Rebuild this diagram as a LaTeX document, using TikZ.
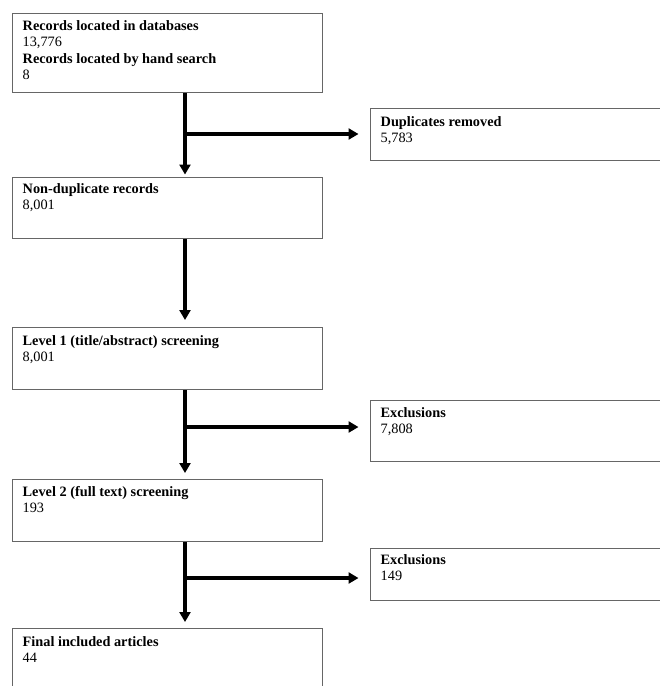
\documentclass[tikz,border=0pt]{standalone}
\usepackage{fontspec}
\setmainfont{Liberation Serif}
\usetikzlibrary{arrows.meta}
\begin{document}
\begin{tikzpicture}[x=1pt,y=-1pt,
  box/.style={draw=black!60, line width=1pt, rectangle, inner sep=0pt, anchor=north west, minimum width=310pt},
  sidebox/.style={box, minimum width=300pt},
  lbl/.style={anchor=north west, inner sep=0pt, align=left, font=\fontsize{14.3}{16.5}\selectfont},
  flow/.style={line width=3.5pt, -{Triangle[length=10pt,width=11pt]}}]
\useasboundingbox (0,0) rectangle (660,686);
\clip (0,0) rectangle (660,686);
% main boxes
\node[box, minimum height=79pt] (b1) at (12,13) {};
\node[box, minimum height=61pt] (b2) at (12,177) {};
\node[box, minimum height=62pt] (b3) at (12,327) {};
\node[box, minimum height=62pt] (b4) at (12,479) {};
\node[box, minimum height=70pt] (b5) at (12,628) {};
% side boxes
\node[sidebox, minimum height=52pt] (d) at (370,108) {};
\node[sidebox, minimum height=61pt] (e1) at (370,400) {};
\node[sidebox, minimum height=52pt] (e2) at (370,548) {};
% texts
\node[lbl] (t1) at ([xshift=10.5pt,yshift=-5pt]b1.north west) {\rule{0pt}{12pt}\textbf{Records located in databases}\\13,776\\\textbf{Records located by hand search}\\8};
\node[lbl] (t2) at ([xshift=10.5pt,yshift=-4pt]b2.north west) {\rule{0pt}{12pt}\textbf{Non-duplicate records}\\8,001};
\node[lbl] (t3) at ([xshift=10.5pt,yshift=-6pt]b3.north west) {\rule{0pt}{12pt}\textbf{Level 1 (title/abstract) screening}\\8,001};
\node[lbl] (t4) at ([xshift=10.5pt,yshift=-5pt]b4.north west) {\rule{0pt}{12pt}\textbf{Level 2 (full text) screening}\\193};
\node[lbl] (t5) at ([xshift=10.5pt,yshift=-6pt]b5.north west) {\rule{0pt}{12pt}\textbf{Final included articles}\\44};
\node[lbl] (td) at ([xshift=10.5pt,yshift=-6pt]d.north west) {\rule{0pt}{12pt}\textbf{Duplicates removed}\\5,783};
\node[lbl] (te1) at ([xshift=10.5pt,yshift=-5pt]e1.north west) {\rule{0pt}{12pt}\textbf{Exclusions}\\7,808};
\node[lbl] (te2) at ([xshift=10.5pt,yshift=-4pt]e2.north west) {\rule{0pt}{12pt}\textbf{Exclusions}\\149};
% connectors
\coordinate (vx) at (185,0);
\coordinate (j1) at (185,134);
\coordinate (j2) at (185,427);
\coordinate (j3) at (185,578);
\draw[flow, shorten >=2.5pt] (b1.south -| vx) -- (b2.north -| vx);
\draw[flow, shorten >=11.5pt] (j1) -- (j1 -| d.west);
\draw[flow, shorten >=7pt] (b2.south -| vx) -- (b3.north -| vx);
\draw[flow, shorten >=6pt] (b3.south -| vx) -- (b4.north -| vx);
\draw[flow, shorten >=11.5pt] (j2) -- (j2 -| e1.west);
\draw[flow, shorten >=6pt] (b4.south -| vx) -- (b5.north -| vx);
\draw[flow, shorten >=11.5pt] (j3) -- (j3 -| e2.west);
\end{tikzpicture}
\end{document}
